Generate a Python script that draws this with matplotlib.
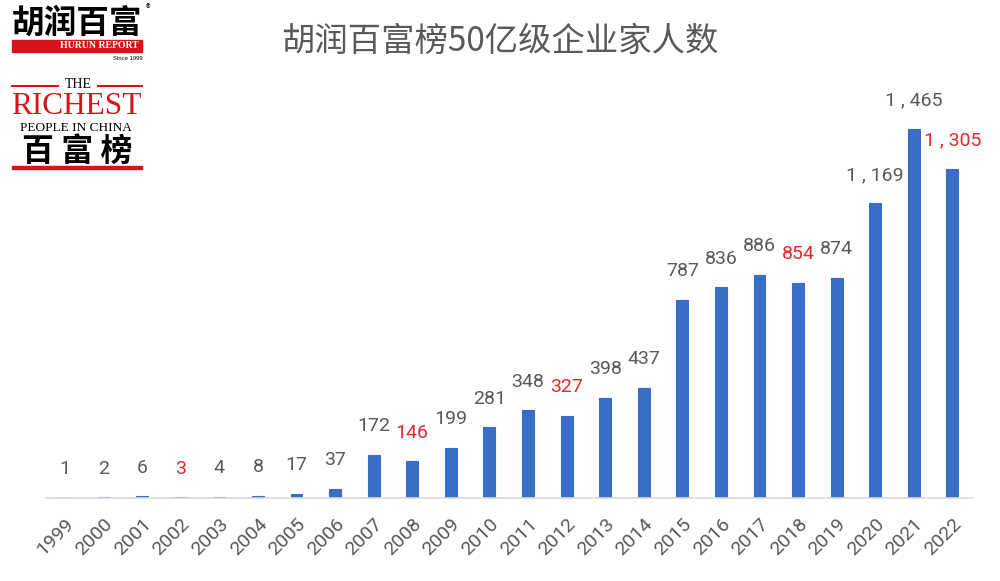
import matplotlib
matplotlib.use("Agg")
import matplotlib.pyplot as plt
from matplotlib.patches import Rectangle
from matplotlib.lines import Line2D

plt.rcParams['font.family'] = ['Noto Sans CJK SC', 'DejaVu Sans']

years = [str(y) for y in range(1999, 2023)]
counts = [1, 2, 6, 3, 4, 8, 17, 37, 172, 146, 199, 281, 348, 327, 398, 437,
          787, 836, 886, 854, 874, 1169, 1465, 1305]
red_years = ['2002', '2008', '2012', '2018', '2022']

title = '胡润百富榜50亿级企业家人数'
bar_color = '#3a6dc8'
gray = '#595959'
red = '#e8262d'
logo_red = '#d7141a'

fig = plt.figure(figsize=(10, 5.81), dpi=100)
ax = fig.add_axes([0.0457, 0.143, 0.926, 0.737])

x = list(range(len(years)))
ax.bar(x, counts, width=0.31, color=bar_color, edgecolor=bar_color, linewidth=0.8)
ax.set_xlim(-0.5, len(years) - 0.5)
ax.set_ylim(0, 1700)

num_font = ['Roboto', 'Noto Sans CJK SC']
for i, (yr, c) in enumerate(zip(years, counts)):
    col = red if yr in red_years else gray
    ax.annotate(f'{c:,}'.replace(',', ' , '), (i, c), xytext=(0, 14),
                textcoords='offset points', ha='center', va='bottom',
                fontsize=14, color=col, family=num_font)

for s in ['top', 'right', 'left']:
    ax.spines[s].set_visible(False)
ax.spines['bottom'].set_color('#d9d9d9')
ax.spines['bottom'].set_linewidth(1.2)
ax.set_yticks([])
ax.set_xticks(x)
ax.set_xticklabels(years, rotation=45, ha='right', rotation_mode='anchor',
                   fontsize=14, color=gray, family=num_font)
ax.tick_params(axis='x', length=0, pad=12)

fig.text(0.5, 0.928, title, ha='center', va='center', fontsize=24, color=gray,
         fontweight='light')

# logo in the top-left corner
def px(xp, yp):
    return xp / 1000, 1 - yp / 581

fig.text(*px(77, 23), '胡润百富', ha='center', va='center', fontsize=23.5,
         fontweight='heavy', color='black')
fig.text(*px(148, 9), '®', ha='center', va='center', fontsize=7, color='black')
fig.patches.append(Rectangle(px(12, 52), 0.130, 12 / 581, transform=fig.transFigure,
                             color=logo_red))
fig.text(*px(99, 46), 'HURUN REPORT', ha='center', va='center', fontsize=7,
         fontweight='bold', family='Liberation Serif', color='white')
fig.text(*px(143, 58), 'Since 1999', ha='right', va='center', fontsize=4.2,
         family='Liberation Sans', color='black')
for x0, x1 in [(12, 58), (98, 142)]:
    fig.lines.append(Line2D([x0 / 1000, x1 / 1000], [1 - 86 / 581] * 2,
                            transform=fig.transFigure, color=logo_red, lw=1.5))
fig.text(*px(78, 85), 'THE', ha='center', va='center', fontsize=10,
         family='Liberation Serif', color='black')
fig.text(*px(76, 106), 'RICHEST', ha='center', va='center', fontsize=22.5,
         family='Liberation Serif', color=logo_red)
fig.text(*px(76, 128), 'PEOPLE IN CHINA', ha='center', va='center', fontsize=9.6,
         family='Liberation Serif', color='black')
fig.text(*px(77, 152), '百 富 榜', ha='center', va='center', fontsize=23,
         fontweight='bold', color='black')
fig.patches.append(Rectangle(px(12, 169), 0.130, 3 / 581, transform=fig.transFigure,
                             color=logo_red))

fig.savefig('out.png', dpi=100)
